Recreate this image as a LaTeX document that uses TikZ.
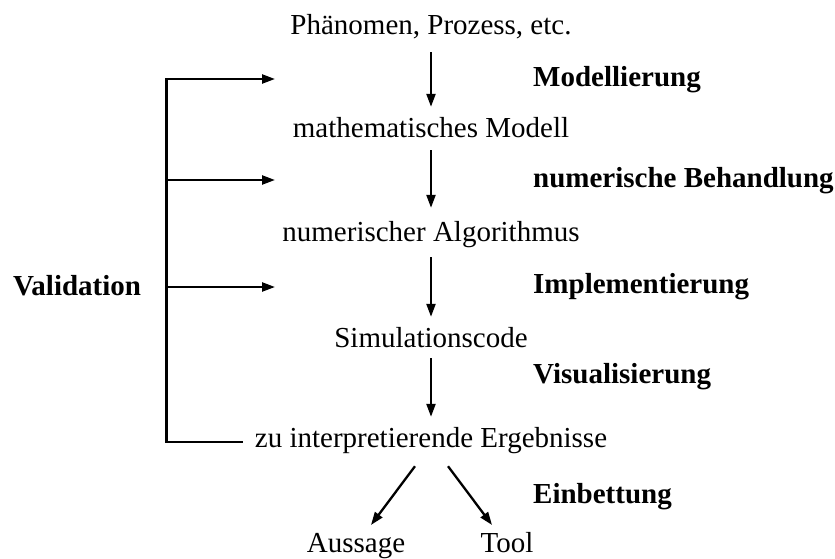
\documentclass[tikz,border=0pt]{standalone}
\usepackage{fontspec}
\setmainfont{Liberation Serif}
\usetikzlibrary{arrows.meta}
\begin{document}
\begin{tikzpicture}[x=1pt,y=-1pt,
  every node/.style={inner sep=0pt, text height=20pt, text depth=6pt, font=\fontsize{29}{34}\selectfont},
  lbl/.style={anchor=base west, font=\fontsize{29}{34}\selectfont\bfseries},
  st/.style={anchor=base},
  arr/.style={line width=2.3pt, -{Triangle[length=13pt,width=9pt]}},
  ln/.style={line width=2.3pt}]
\useasboundingbox (0,0) rectangle (835,559);

% main chain
\node[st] (p) at (431,35) {Phänomen, Prozess, etc.};
\node[st] (m) at (431,138) {mathematisches Modell};
\node[st] (n) at (431,241) {numerischer Algorithmus};
\node[st] (s) at (431,347) {Simulationscode};
\node[st] (e) at (431,447) {zu interpretierende Ergebnisse};
\node[st] (a) at (356,552) {Aussage};
\node[st] (t) at (507,552) {Tool};

% step labels
\node[lbl] (l1) at (533,87) {Modellierung};
\node[lbl] (l2) at (533,187) {numerische Behandlung};
\node[lbl] (l3) at (533,293) {Implementierung};
\node[lbl] (l4) at (533,383) {Visualisierung};
\node[lbl] (l5) at (533,503) {Einbettung};
\node[lbl] (v) at (13,295) {Validation};

% vertical arrows
\draw[arr, shorten <=11pt, shorten >=11pt] (p.south) -- (m.north);
\draw[arr, shorten <=6pt, shorten >=13pt] (m.south) -- (n.north);
\draw[arr, shorten <=10pt, shorten >=10pt] (n.south) -- (s.north);
\draw[arr, shorten <=5pt, shorten >=10pt] (s.south) -- (e.north);

% split arrows
\draw[arr, shorten >=8.5pt] ([shift={(-16,13)}]e.south) -- (a);
\draw[arr, shorten >=8.5pt] ([shift={(17,13)}]e.south) -- (t);

% validation feedback
\coordinate (ftop) at (166.5,79);
\coordinate (fbot) at (166.5,442);
\coordinate (t1) at (275,79);
\coordinate (t2) at (275,180);
\coordinate (t3) at (275,287);
\draw[arr] ([xshift=-12pt]fbot -| e.west) -- (fbot) -- (ftop) -- (t1);
\draw[arr] (ftop |- t2) -- (t2);
\draw[arr] (ftop |- t3) -- (t3);
\end{tikzpicture}
\end{document}
